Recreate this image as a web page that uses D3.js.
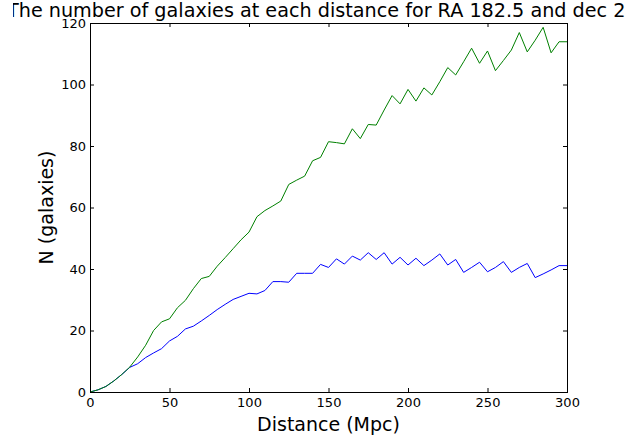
<!DOCTYPE html>
<meta charset="utf-8">
<script src="https://d3js.org/d3.v7.min.js"></script>
<div id="chart"></div>
<script>

// distance bins (Mpc)
var distance = [0, 5, 10, 15, 20, 25, 30, 35, 40, 45, 50, 55, 60, 65, 70, 75, 80, 85, 90, 95,
  100, 105, 110, 115, 120, 125, 130, 135, 140, 145, 150, 155, 160, 165, 170, 175, 180, 185, 190, 195,
  200, 205, 210, 215, 220, 225, 230, 235, 240, 245, 250, 255, 260, 265, 270, 275, 280, 285, 290, 295, 300];

// green line
var nGreen = [0, 0.7, 1.8, 3.6, 5.7, 8.1, 11.4, 15.2, 20, 22.8, 23.8, 27.4, 29.8, 33.6, 36.9, 37.6, 40.9, 43.7, 46.6, 49.5,
  52, 57, 59, 60.5, 62.1, 67.5, 68.9, 70.2, 75.2, 76.3, 81.4, 81.1, 80.7, 85.6, 82.4, 87, 86.8, 91.7, 96.4, 93.7,
  98.4, 94.6, 98.9, 96.6, 100.9, 105.5, 103.1, 107.4, 111.8, 106.9, 110.9, 104.5, 107.8, 111.2, 116.9, 110.6, 114.4, 118.6, 110.3, 113.9, 113.9];

// blue line
var nBlue = [0, 0.7, 1.8, 3.6, 5.7, 8.0, 9.2, 11.2, 12.7, 14.1, 16.6, 18.1, 20.5, 21.4, 23.1, 24.9, 26.8, 28.5, 30.1, 31.1,
  32.1, 31.9, 33, 35.9, 35.9, 35.7, 38.6, 38.6, 38.6, 41.5, 40.5, 43.3, 41.6, 44.2, 42.9, 45.3, 43.1, 45.3, 41.6, 43.8,
  41.3, 43.5, 41.1, 42.9, 44.9, 41.3, 43.1, 38.9, 40.5, 42.2, 39.1, 40.5, 42.4, 38.9, 40.5, 41.8, 37.2, 38.4, 39.7, 41.1, 41.1];

var xTicks = [0, 50, 100, 150, 200, 250, 300];
var yTicks = [0, 20, 40, 60, 80, 100, 120];

var width = 633, height = 442;
var plotLeft = 90, plotRight = 567, plotTop = 23, plotBottom = 392;

var svg = d3.select("#chart")
  .append("svg")
    .attr("width", width)
    .attr("height", height);

var x = d3.scaleLinear().domain([0, 300]).range([plotLeft, plotRight]);
var y = d3.scaleLinear().domain([0, 120]).range([plotBottom, plotTop]);

// axes, ticks pointing inwards like old matplotlib
function styleAxis(g) {
  g.select(".domain").remove();
  g.attr("font-family", "DejaVu Sans").attr("font-size", 13);
  g.selectAll("line").attr("stroke", "#000");
  g.selectAll("text").attr("fill", "#000");
}

svg.append("g")
  .attr("transform", "translate(0," + plotBottom + ")")
  .call(d3.axisBottom(x).tickValues(xTicks).tickSizeInner(-4).tickSizeOuter(0).tickPadding(6))
  .call(styleAxis);

svg.append("g")
  .attr("transform", "translate(0," + plotTop + ")")
  .call(d3.axisTop(x).tickValues(xTicks).tickSizeInner(-4).tickSizeOuter(0).tickFormat(""))
  .call(styleAxis);

svg.append("g")
  .attr("transform", "translate(" + plotLeft + ",0)")
  .call(d3.axisLeft(y).tickValues(yTicks).tickSizeInner(-4).tickSizeOuter(0).tickPadding(4))
  .call(styleAxis);

svg.append("g")
  .attr("transform", "translate(" + plotRight + ",0)")
  .call(d3.axisRight(y).tickValues(yTicks).tickSizeInner(-4).tickSizeOuter(0).tickFormat(""))
  .call(styleAxis);

var line = d3.line()
  .x(function(d, i) { return x(distance[i]); })
  .y(function(d) { return y(d); });

svg.append("path")
  .datum(nBlue)
  .attr("fill", "none")
  .attr("stroke", "#0000ff")
  .attr("stroke-width", 1)
  .attr("d", line);

svg.append("path")
  .datum(nGreen)
  .attr("fill", "none")
  .attr("stroke", "#008000")
  .attr("stroke-width", 1)
  .attr("d", line);

// frame
svg.append("rect")
  .attr("x", plotLeft + 0.5)
  .attr("y", plotTop + 0.5)
  .attr("width", plotRight - plotLeft)
  .attr("height", plotBottom - plotTop)
  .attr("fill", "none")
  .attr("stroke", "#000")
  .attr("stroke-width", 1);

// title, cut off at both sides like in the saved figure
svg.append("clipPath")
  .attr("id", "title-clip")
  .append("rect")
    .attr("x", 13).attr("y", 0)
    .attr("width", 615).attr("height", 30);

svg.append("text")
  .attr("clip-path", "url(#title-clip)")
  .attr("x", 7)
  .attr("y", 17)
  .attr("font-family", "DejaVu Sans")
  .attr("font-size", 19.2)
  .text("The number of galaxies at each distance for RA 182.5 and dec 2");

svg.append("text")
  .attr("x", (plotLeft + plotRight) / 2)
  .attr("y", 431)
  .attr("text-anchor", "middle")
  .attr("font-family", "DejaVu Sans")
  .attr("font-size", 19)
  .text("Distance (Mpc)");

svg.append("text")
  .attr("transform", "translate(53," + (plotTop + plotBottom) / 2 + ") rotate(-90)")
  .attr("text-anchor", "middle")
  .attr("font-family", "DejaVu Sans")
  .attr("font-size", 19)
  .text("N (galaxies)");

</script>

<style>
body {
  margin: 0;
}
</style>
